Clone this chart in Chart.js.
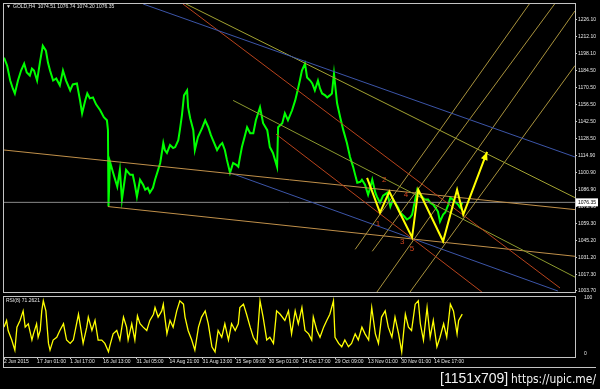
<!DOCTYPE html>
<html><head><meta charset="utf-8">
<script src="https://cdn.jsdelivr.net/npm/chart.js@4"></script>
<style>
html,body{margin:0;padding:0;background:#000;width:600px;height:389px;overflow:hidden}
#main{position:absolute;left:0;top:0;width:600px;height:296px}
#rsi{position:absolute;left:0;top:293px;width:600px;height:96px}
</style></head><body>
<canvas id="main" width="600" height="296"></canvas>
<canvas id="rsi" width="600" height="96"></canvas>
<script>
// ---------- data ----------
const timeLabels = ['2 Jun 2015','17 Jun 01:00','1 Jul 17:00','16 Jul 13:00','31 Jul 05:00','14 Aug 21:00','31 Aug 13:00','15 Sep 09:00','30 Sep 01:00','14 Oct 17:00','29 Oct 09:00','13 Nov 01:00','30 Nov 01:00','14 Dec 17:00'];
const barsPerLabel = 64;
const lastBar = 1104;
const priceTicks = [1226.10,1212.10,1198.10,1184.50,1170.50,1156.50,1142.50,1128.50,1114.90,1100.90,1086.90,1072.90,1059.30,1045.20,1031.20,1017.30,1003.70];
const priceMin = 1002.8, priceMax = 1239.1;
const closePrice = 1076.35;
const headerText = 'GOLD,H4  1074.51 1076.74 1074.20 1076.35';
const rsiText = 'RSI(8) 71.2621';
const rsiTicks = [0, 100];

const priceBars = [
0,6,12,17,21,27,33,39,44,50,
54,58,64,70,75,81,85,89,95,101,
108,114,120,128,133,141,147,151,157,161,
166,172,178,186,193,199,201,202,205,211,
215,219,224,228,232,236,244,249,253,257,
263,269,273,278,282,288,292,298,302,306,
308,311,315,321,327,331,337,340,344,348,
354,356,360,366,369,375,383,389,395,400,
404,412,418,422,427,431,437,443,449,453,
456,460,466,470,476,482,487,495,501,509,
514,520,524,528,530,538,543,549,557,563,
569,572,576,582,586,592,596,601,607,611,
615,621,625,630,634,638,644,650,656,663,
669,675,679,683,689,692,698,704,708,712,
718,721,727,733,741,747,752,756,762,766,
774,779,785,789,795,799,805,810,814,820,
824,830,834,839,843,849,853,859,863,868,
872,878,882,886];
const priceValues = [
1195.1,1188.6,1176.3,1169.8,1165.7,1176.3,1184.5,1190.2,1182.9,1180.4,
1186.1,1184.5,1176.3,1192.6,1204.8,1200.8,1191.0,1184.5,1176.3,1178.0,
1172.3,1184.5,1176.3,1168.2,1173.1,1173.9,1160.0,1149.4,1160.0,1165.7,
1161.7,1162.5,1156.8,1151.9,1146.2,1143.7,1135.6,1072.9,1109.5,1100.6,
1094.9,1089.2,1103.0,1078.6,1090.8,1103.0,1098.9,1098.9,1090.8,1081.0,
1094.9,1090.8,1086.7,1088.3,1084.3,1088.3,1094.9,1103.0,1108.7,1119.3,
1125.0,1119.3,1116.9,1123.4,1120.9,1121.7,1127.4,1135.6,1147.8,1164.1,
1168.2,1154.3,1145.4,1135.6,1119.3,1129.9,1137.2,1143.7,1138.0,1131.5,
1127.4,1119.3,1123.4,1125.0,1119.3,1111.2,1100.6,1108.7,1107.1,1105.5,
1112.8,1121.7,1131.5,1138.0,1133.1,1133.1,1143.7,1154.3,1141.3,1135.6,
1121.7,1116.9,1111.2,1105.5,1138.0,1141.3,1149.4,1143.7,1151.9,1160.0,
1170.6,1176.3,1184.5,1190.2,1178.8,1176.3,1173.9,1168.2,1176.3,1169.8,
1165.7,1164.1,1162.5,1164.1,1165.7,1182.0,1157.6,1146.2,1135.6,1125.0,
1113.6,1105.5,1098.9,1092.4,1093.2,1094.9,1090.8,1082.6,1088.3,1094.9,
1084.3,1081.0,1076.1,1081.8,1084.3,1072.9,1078.6,1076.1,1072.0,1068.0,
1064.7,1062.3,1063.9,1066.3,1078.6,1086.7,1082.6,1080.2,1078.6,1078.6,
1076.1,1074.5,1072.0,1068.8,1060.6,1066.3,1068.0,1074.5,1080.2,1078.6,
1076.9,1074.5,1072.0,1076.35];

const rsiBars = [
0,5,8,15,21,25,31,37,41,47,
54,57,63,66,70,73,76,81,86,89,
95,102,108,115,121,128,134,144,147,153,
160,163,170,176,182,189,195,202,205,211,
218,224,231,237,240,247,253,258,263,269,
276,282,289,292,298,305,308,311,315,321,
327,334,340,347,350,356,363,369,376,382,
389,395,402,408,414,421,427,434,440,447,
453,456,463,469,476,482,489,495,501,508,
514,521,527,534,543,550,556,563,569,576,
582,589,595,598,605,611,618,624,630,637,
640,647,653,659,666,672,679,685,692,698,
705,711,718,724,730,737,743,750,756,763,
769,776,782,788,795,801,805,811,818,824,
830,837,843,850,856,863,869,876,879,886];
const rsiValues = [
48,60,42,25,7,48,60,77,48,54,
25,36,54,30,42,77,95,77,19,7,
25,30,42,54,25,19,25,71,54,19,
48,66,42,60,25,25,19,4,16,36,
42,25,66,48,25,54,25,68,54,48,
42,60,71,83,66,77,89,66,36,60,
48,77,95,89,66,42,25,7,48,66,
77,54,13,4,42,30,54,25,54,42,
54,83,89,71,48,30,19,95,66,25,
30,19,77,71,60,77,36,77,54,83,
42,36,25,66,42,30,48,60,71,95,
30,19,13,25,13,19,36,25,48,36,
25,83,36,19,66,77,48,30,66,36,
4,71,48,42,89,95,54,25,83,30,
60,13,30,54,30,89,77,36,60,71.26];

// Elliott-wave zigzag
const waveBars = [702,727,745,789,801,849,876,888,934];
const wavePrices = [1096.5,1068.0,1085.1,1047.6,1086.7,1044.4,1086.7,1066.3,1117.7];
const waveLabels = ['1','2','3','4','5'];
const waveLabelBars = [723,735,770,777,789];
const waveLabelPrices = [1059.0,1094.9,1043.6,1082.6,1037.9];

// trend lines: start/end (bar, price)
const trendX1 = [269,346,352,443,526,0,201,437,679,712,721,785,0];
const trendY1 = [1239.1,1239.1,1239.1,1160.0,1132.3,1119.3,1072.9,1100.6,1037.8,1036.2,1002.8,1002.8,1076.35];
const trendX2 = [1104,1075,1104,1104,924,1104,1104,1071,1017,1066,1104,1104,1104];
const trendY2 = [1113.6,1006.1,1080.2,1015.0,1002.8,1070.4,1032.1,1003.6,1239.9,1239.9,1233.4,1188.6,1076.35];

// ---------- styles ----------
const trendColors = ['#3c55a8','#b8431c','#a3a332','#8c9a2e','#b8431c','#c0904a','#c0904a','#3c55a8','#a8923c','#a8923c','#a8923c','#a8923c','#8a8a8a'];
const frameColor = '#c4c4c4';
const textColor = '#e6e6e6';
const smallFont = {family:'Liberation Sans', size:5};

const pts = (xs, ys) => xs.map((x,i)=>({x:x, y:ys[i]}));

function frame(chart){
  const a = chart.chartArea, c = chart.ctx;
  c.save(); c.strokeStyle = frameColor; c.lineWidth = 1;
  c.strokeRect(Math.round(a.left)-0.5, Math.round(a.top)-0.5, Math.round(a.right-a.left)+1, Math.round(a.bottom-a.top)+1);
  c.restore();
}

const mainDecor = {
  id:'mainDecor',
  beforeDraw(chart){ const c=chart.ctx; c.save(); c.fillStyle='#000'; c.fillRect(0,0,chart.width,chart.height); c.restore(); },
  afterDatasetsDraw(chart){
    const c = chart.ctx, xs = chart.scales.x, ys = chart.scales.y;
    const meta = chart.getDatasetMeta(0);
    const n = meta.data.length;
    const p1 = meta.data[n-2], p2 = meta.data[n-1];
    const ang = Math.atan2(p2.y-p1.y, p2.x-p1.x);
    c.save();
    c.fillStyle = '#ffff00';
    c.beginPath();
    c.moveTo(p2.x, p2.y);
    c.lineTo(p2.x - 8*Math.cos(ang) + 3.5*Math.sin(ang), p2.y - 8*Math.sin(ang) - 3.5*Math.cos(ang));
    c.lineTo(p2.x - 8*Math.cos(ang) - 3.5*Math.sin(ang), p2.y - 8*Math.sin(ang) + 3.5*Math.cos(ang));
    c.closePath(); c.fill();
    c.fillStyle = '#d0441e';
    c.font = '8px "Liberation Sans"';
    c.textAlign = 'center'; c.textBaseline = 'middle';
    waveLabels.forEach((t,i)=>{
      c.fillText(t, xs.getPixelForValue(waveLabelBars[i]), ys.getPixelForValue(waveLabelPrices[i]));
    });
    c.restore();
  },
  afterDraw(chart){
    frame(chart);
    const c = chart.ctx, a = chart.chartArea, ys = chart.scales.y;
    c.save();
    c.fillStyle = textColor;
    c.font = '5px "Liberation Sans"';
    c.textBaseline = 'middle'; c.textAlign = 'left';
    c.fillText('\u25BC', 6, 6.5);
    c.fillText(headerText, 13, 6.5);
    const py = ys.getPixelForValue(closePrice);
    c.fillStyle = '#ffffff';
    c.fillRect(a.right+1, py-4, 22, 8);
    c.fillStyle = '#000000';
    c.fillText(closePrice.toFixed(2), a.right+3, py);
    c.restore();
  }
};

const rsiDecor = {
  id:'rsiDecor',
  beforeDraw(chart){ const c=chart.ctx; c.save(); c.fillStyle='#000'; c.fillRect(0,0,chart.width,chart.height); c.restore(); },
  afterDraw(chart){
    frame(chart);
    const c = chart.ctx, a = chart.chartArea;
    c.save();
    c.fillStyle = textColor;
    c.font = '5px "Liberation Sans"';
    c.textBaseline = 'middle'; c.textAlign = 'left';
    c.fillText(rsiText, a.left+2, a.top+3.5);
    c.strokeStyle = frameColor; c.lineWidth = 1;
    c.beginPath();
    c.moveTo(3, a.bottom+10.5); c.lineTo(596, a.bottom+10.5);
    c.moveTo(3.5, a.bottom); c.lineTo(3.5, a.bottom+10.5);
    c.stroke();
    c.fillStyle = '#f2f2f2';
    c.textBaseline = 'alphabetic';
    c.font = '14px "Liberation Sans"';
    c.fillText('[1151x709]', 440, 90, 69);
    c.font = '13px "DejaVu Sans"';
    c.fillText('https://upic.me/', 511, 90, 85);
    c.restore();
  }
};

const commonX = (display) => ({
  type:'linear', min:0, max:lastBar, display:display,
  afterBuildTicks(s){ s.ticks = timeLabels.map((_,i)=>({value:i*barsPerLabel})); },
  afterFit(s){ if (display) s.height = 32; },
  ticks:{ autoSkip:false, maxRotation:0, minRotation:0, align:'start', padding:0, color:textColor, font:smallFont,
    callback:(v)=>timeLabels[Math.round(v/barsPerLabel)] },
  grid:{ display:true, drawOnChartArea:false, drawTicks:true, tickLength:2, color:frameColor },
  border:{ display:false }
});

Chart.defaults.font.family = 'Liberation Sans';

new Chart(document.getElementById('main'), {
  type:'line',
  data:{ datasets:[
    { data: pts(waveBars, wavePrices), borderColor:'#ffff00', borderWidth:2, pointRadius:0, order:0 },
    ...trendX1.map((x,i)=>({ data:[{x:x,y:trendY1[i]},{x:trendX2[i],y:trendY2[i]}], borderColor:trendColors[i], borderWidth:1, pointRadius:0, order:1 })),
    { data: pts(priceBars, priceValues), borderColor:'#00ff00', borderWidth:2, pointRadius:0, order:2 }
  ]},
  options:{
    responsive:false, animation:false, devicePixelRatio:1,
    layout:{ padding:{ left:4, top:3, bottom:3, right:0 } },
    plugins:{ legend:{display:false}, tooltip:{enabled:false} },
    elements:{ line:{ tension:0 } },
    scales:{
      x: commonX(false),
      y:{ position:'right', min:priceMin, max:priceMax,
        afterBuildTicks(s){ s.ticks = priceTicks.map(v=>({value:v})); },
        afterFit(s){ s.width = 25; },
        ticks:{ autoSkip:false, padding:1, color:textColor, font:smallFont, callback:(v)=>Number(v).toFixed(2) },
        grid:{ display:true, drawOnChartArea:false, tickLength:2, color:frameColor },
        border:{ display:false } }
    }
  },
  plugins:[mainDecor]
});

new Chart(document.getElementById('rsi'), {
  type:'line',
  data:{ datasets:[
    { data: pts(rsiBars, rsiValues), borderColor:'#ffff00', borderWidth:1.3, pointRadius:0 }
  ]},
  options:{
    responsive:false, animation:false, devicePixelRatio:1,
    layout:{ padding:{ left:4, top:3, bottom:0, right:0 } },
    plugins:{ legend:{display:false}, tooltip:{enabled:false} },
    elements:{ line:{ tension:0 } },
    scales:{
      x: commonX(true),
      y:{ position:'right', min:-5.3, max:101.8,
        afterBuildTicks(s){ s.ticks = rsiTicks.map(v=>({value:v})); },
        afterFit(s){ s.width = 25; },
        ticks:{ autoSkip:false, padding:1, color:textColor, font:smallFont, callback:(v)=>String(v) },
        grid:{ display:false },
        border:{ display:false } }
    }
  },
  plugins:[rsiDecor]
});
</script>
</body></html>
